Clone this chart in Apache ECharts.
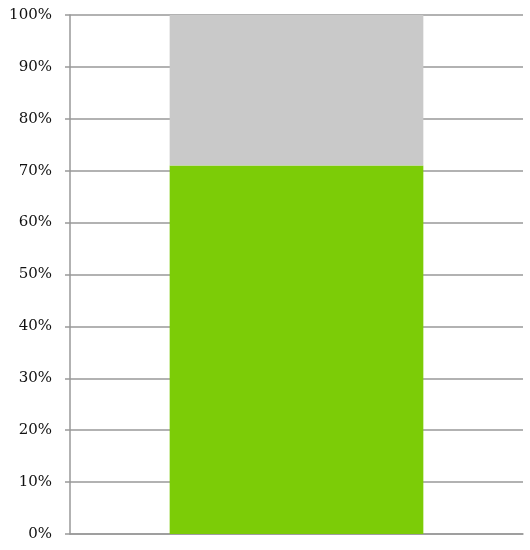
<!DOCTYPE html>
<html>
<head>
<meta charset="utf-8">
<script src="https://cdn.jsdelivr.net/npm/echarts@6/dist/echarts.min.js"></script>
<style>html,body{margin:0;padding:0;background:#fff}#c{width:530px;height:550px}</style>
</head>
<body>
<div id="c"></div>
<script>
var categories = [''];
var achieved = [71];
var remaining = [29];
var chart = echarts.init(document.getElementById('c'));
chart.setOption({
  animation: false,
  grid: {left: 70, right: 7, top: 15, bottom: 16},
  xAxis: {
    type: 'category', data: categories,
    axisLine: {show: true, lineStyle: {color: '#999', width: 1.5}},
    axisTick: {show: false}, axisLabel: {show: false}
  },
  yAxis: {
    type: 'value', min: 0, max: 100, interval: 10,
    axisLine: {show: true, lineStyle: {color: '#999', width: 1.5}},
    axisTick: {show: true, length: 5, lineStyle: {color: '#999', width: 1.5}},
    splitLine: {lineStyle: {color: '#999', width: 1.5}},
    axisLabel: {formatter: '{value}%', fontFamily: 'DejaVu Serif', fontSize: 15, color: '#111', margin: 18}
  },
  series: [
    {type: 'bar', stack: 's', data: achieved, barWidth: '56%', itemStyle: {color: '#7ccc07'}},
    {type: 'bar', stack: 's', data: remaining, barWidth: '56%', itemStyle: {color: '#c9c9c9'}}
  ]
});
</script>
</body>
</html>
